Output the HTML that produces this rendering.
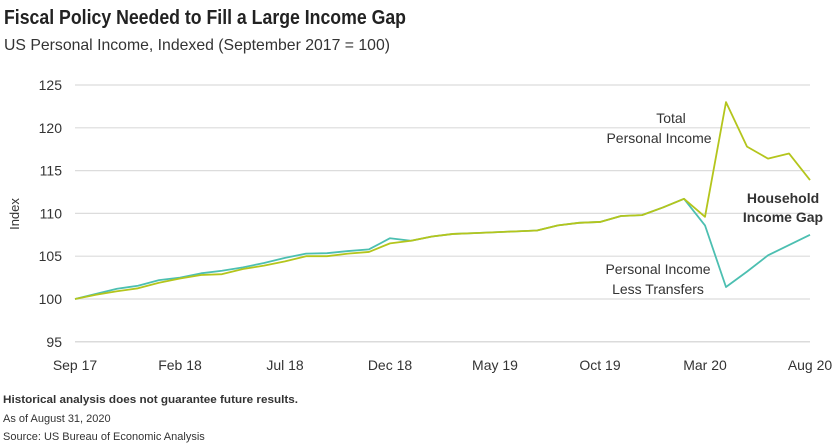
<!DOCTYPE html>
<html><head><meta charset="utf-8"><style>
body{margin:0;background:#fff;}
svg{display:block;font-family:"Liberation Sans",sans-serif;}
</style></head><body>
<svg id="chart" width="840" height="446" viewBox="0 0 840 446">
<text x="4" y="24" font-size="20" font-weight="bold" fill="#222" textLength="402" lengthAdjust="spacingAndGlyphs">Fiscal Policy Needed to Fill a Large Income Gap</text>
<text x="4" y="50" font-size="16" fill="#333" textLength="386" lengthAdjust="spacingAndGlyphs">US Personal Income, Indexed (September 2017 = 100)</text>
<g id="grid"></g>
<g id="lines"></g>
<text transform="translate(19,214) rotate(-90)" font-size="13" fill="#333" text-anchor="middle">Index</text>
<text x="671" y="123" font-size="14" fill="#333" text-anchor="middle">Total</text>
<text x="659" y="143" font-size="14" fill="#333" text-anchor="middle">Personal Income</text>
<text x="658" y="274" font-size="14" fill="#333" text-anchor="middle">Personal Income</text>
<text x="658" y="294" font-size="14" fill="#333" text-anchor="middle">Less Transfers</text>
<text x="783" y="203" font-size="14" font-weight="bold" fill="#333" text-anchor="middle">Household</text>
<text x="783" y="222" font-size="14" font-weight="bold" fill="#333" text-anchor="middle">Income Gap</text>
<text x="3" y="403" font-size="11" font-weight="bold" fill="#333" textLength="295" lengthAdjust="spacingAndGlyphs">Historical analysis does not guarantee future results.</text>
<text x="3" y="422" font-size="11" fill="#333">As of August 31, 2020</text>
<text x="3" y="440" font-size="11" fill="#333">Source: US Bureau of Economic Analysis</text>
</svg>
<script>
const yTicks=[95,100,105,110,115,120,125];
const xTickLabels=["Sep 17","Feb 18","Jul 18","Dec 18","May 19","Oct 19","Mar 20","Aug 20"];
const xTickIdx=[0,5,10,15,20,25,30,35];
const totalIncome=[100,100.5,100.9,101.25,101.9,102.4,102.8,102.9,103.5,103.9,104.4,105.0,105.0,105.3,105.5,106.5,106.8,107.3,107.6,107.7,107.8,107.9,108.0,108.6,108.9,109.0,109.7,109.8,110.7,111.7,109.6,123.0,117.8,116.4,117.0,113.9];
const lessTransfers=[100,100.6,101.2,101.55,102.2,102.5,103.0,103.3,103.7,104.2,104.8,105.3,105.35,105.6,105.8,107.1,106.8,107.3,107.6,107.7,107.8,107.9,108.0,108.6,108.9,109.0,109.7,109.8,110.7,111.7,108.6,101.4,103.2,105.1,106.3,107.5];
const NS="http://www.w3.org/2000/svg";
const x0=75,x1=810,yBase=299,pxPerUnit=8.56;
const xs=i=>x0+(x1-x0)*i/35;
const ys=v=>yBase-(v-100)*pxPerUnit;
const grid=document.getElementById('grid'),lines=document.getElementById('lines');
yTicks.forEach(t=>{
 const l=document.createElementNS(NS,'line');
 l.setAttribute('x1',x0);l.setAttribute('x2',x1);l.setAttribute('y1',ys(t));l.setAttribute('y2',ys(t));
 l.setAttribute('stroke',t===95?'#cfcfcf':'#dcdcdc');l.setAttribute('stroke-width','1.2');
 
 
 grid.appendChild(l);
 const tx=document.createElementNS(NS,'text');
 tx.setAttribute('x',62);tx.setAttribute('y',ys(t)+5);tx.setAttribute('text-anchor','end');tx.setAttribute('font-size','14');tx.setAttribute('fill','#333');
 tx.textContent=t;
 
 
 grid.appendChild(tx);
});
xTickIdx.forEach((idx,k)=>{
 const tx=document.createElementNS(NS,'text');
 tx.setAttribute('x',xs(idx));tx.setAttribute('y',370);tx.setAttribute('text-anchor','middle');tx.setAttribute('font-size','14');tx.setAttribute('fill','#333');
 tx.textContent=xTickLabels[k];
 
 
 grid.appendChild(tx);
});
function series(vals,color,name){
 const p=document.createElementNS(NS,'polyline');
 p.setAttribute('points',vals.map((v,i)=>xs(i)+','+ys(v)).join(' '));
 p.setAttribute('fill','none');p.setAttribute('stroke',color);p.setAttribute('stroke-width','1.8');p.setAttribute('stroke-linejoin','round');
 
 
 lines.appendChild(p);
}
series(lessTransfers,'#4cbfb1','line-less-transfers');
series(totalIncome,'#b4c51c','line-total-income');
</script>
</body></html>
